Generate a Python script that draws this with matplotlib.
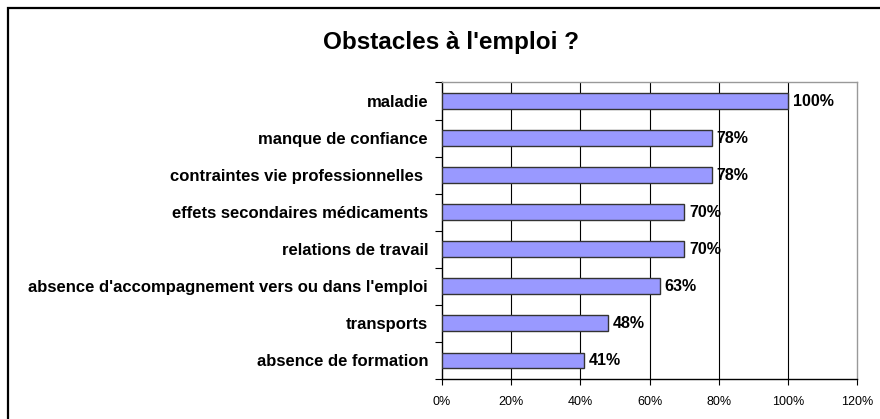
import matplotlib
matplotlib.use("Agg")
import matplotlib.pyplot as plt
from matplotlib.patches import Rectangle
from matplotlib.ticker import FixedLocator, NullFormatter

plt.rcParams['font.family'] = ['Liberation Sans', 'DejaVu Sans']

categories = ["maladie", "manque de confiance", "contraintes vie professionnelles ",
              "effets secondaires médicaments", "relations de travail",
              "absence d'accompagnement vers ou dans l'emploi", "transports",
              "absence de formation"]
values = [100, 78, 78, 70, 70, 63, 48, 41]
value_labels = ["100%", "78%", "78%", "70%", "70%", "63%", "48%", "41%"]
xticks = [0, 20, 40, 60, 80, 100, 120]
xtick_labels = ["0%", "20%", "40%", "60%", "80%", "100%", "120%"]
title = "Obstacles à l'emploi ?"

W, H = 880, 419
fig = plt.figure(figsize=(W/100, H/100), dpi=100)
fig.patches.append(Rectangle((8/W, -0.1), 1.2, 1 - 8/H + 0.1, transform=fig.transFigure,
                             fill=False, edgecolor='black', linewidth=1.6, zorder=0))

ax = fig.add_axes([442/W, 1 - 379/H, (857-442)/W, (379-82.5)/H])
n = len(categories)
ypos = list(range(n))
ax.barh(ypos, values, height=0.43, color='#9999FF', edgecolor='#333333', linewidth=1.0, zorder=3)
ax.set_ylim(n - 0.5, -0.5)
ax.set_xlim(0, 120)

for y, v, lab in zip(ypos, values, value_labels):
    ax.annotate(lab, (v, y), xytext=(3.5, 0), textcoords='offset points',
                ha='left', va='center', fontsize=11.5, fontweight='bold', zorder=4)

ax.set_yticks(ypos)
ax.set_yticklabels(categories, fontsize=12, fontweight='bold')
ax.tick_params(axis='y', which='major', length=0, pad=10)
ax.yaxis.set_minor_locator(FixedLocator([i - 0.5 for i in range(n + 1)]))
ax.yaxis.set_minor_formatter(NullFormatter())
ax.tick_params(axis='y', which='minor', length=5, width=0.8, direction='out')

ax.set_xticks(xticks)
ax.set_xticklabels(xtick_labels, fontsize=9)
ax.tick_params(axis='x', length=4, width=0.8, direction='out', pad=8)

for x in xticks[1:-1]:
    ax.axvline(x, color='black', linewidth=0.8, zorder=1)

ax.spines['top'].set_color('#999999')
ax.spines['right'].set_color('#999999')
ax.spines['left'].set_color('black')
ax.spines['bottom'].set_color('black')
for s in ax.spines.values():
    s.set_linewidth(1.0)

fig.text(451/W, 1 - 42/H, title, ha='center', va='center', fontsize=17.5, fontweight='bold')

fig.savefig("out.png", dpi=100)
